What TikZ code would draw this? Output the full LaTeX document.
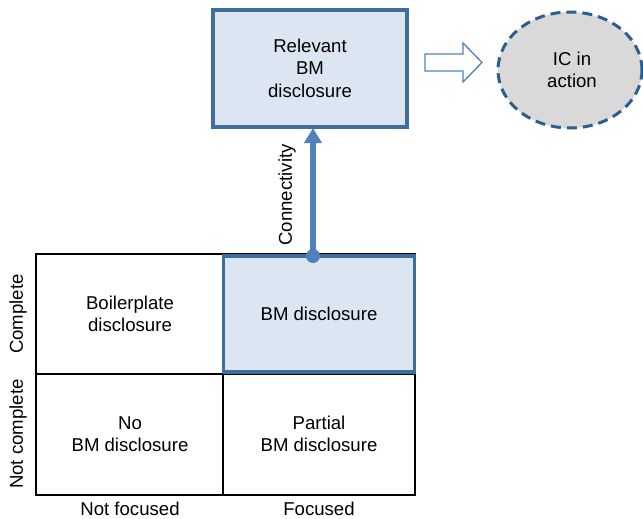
\documentclass[tikz,border=0pt]{standalone}
\usepackage{fontspec}
\setmainfont{Liberation Sans}
\usetikzlibrary{arrows.meta,shapes.geometric}
\definecolor{boxfill}{HTML}{DCE6F2}
\definecolor{boxline}{HTML}{3F6E9E}
\definecolor{arrowblue}{HTML}{4F81BD}
\definecolor{ellfill}{HTML}{D9D9D9}
\definecolor{ellline}{HTML}{2E5E8F}
\tikzset{
  txt/.style={font=\fontsize{18.6}{22.5}\selectfont, align=center, inner sep=0pt},
  bluebox/.style={draw=boxline, line width=3.2pt, fill=boxfill},
  gridline/.style={draw=black, line width=1.2pt},
}
\begin{document}
\begin{tikzpicture}[x=1pt,y=-1pt]
\useasboundingbox (0,0) rectangle (643,519);
% grid
\draw[gridline] (36,254) rectangle (415,495);
\draw[gridline] (223,254) -- (223,495);
\draw[gridline] (36,374) -- (415,374);
% BM disclosure highlighted cell
\node[bluebox, minimum width=191pt, minimum height=116pt, inner sep=0pt] (bm) at (319,314) {};
\node[txt] (bmt) at (319,314) {BM disclosure};
% other cells
\node[txt] (bp) at (130,314) {Boilerplate\\disclosure};
\node[txt] (nobm) at (130,434) {No\\BM disclosure};
\node[txt] (pbm) at (319,434) {Partial\\BM disclosure};
% axis labels
\node[txt] (nf) at (130,508.5) {Not focused};
\node[txt] (f) at (319,508.5) {Focused};
\node[txt, rotate=90] (c) at (18,314) {Complete};
\node[txt, rotate=90] (nc) at (18,434) {Not complete};
% top box
\node[bluebox, minimum width=194pt, minimum height=117pt, inner sep=0pt] (rel) at (310,68.5) {};
\node[txt] (relt) at (310,68) {Relevant\\BM\\disclosure};
% connectivity arrow
\coordinate (start) at (313,256);
\fill[arrowblue] (start) circle (7pt);
\draw[arrowblue, line width=5.5pt, -{Triangle[width=17pt,length=15pt]}] (start) -- (313,128);
\node[txt, rotate=90] (conn) at (287,195) {Connectivity};
% hollow arrow
\draw[draw=arrowblue, line width=1.3pt, fill=white] (425,54) -- (463,54) -- (463,43) -- (482,62.5) -- (463,82) -- (463,71) -- (425,71) -- cycle;
% ellipse
\node[ellipse, draw=ellline, fill=ellfill, line width=3pt, dash pattern=on 10pt off 6pt, minimum width=144pt, minimum height=116pt, inner sep=0pt] (ic) at (570,70) {};
\node[txt] (ict) at (572,70) {IC in\\action};
\end{tikzpicture}
\end{document}
